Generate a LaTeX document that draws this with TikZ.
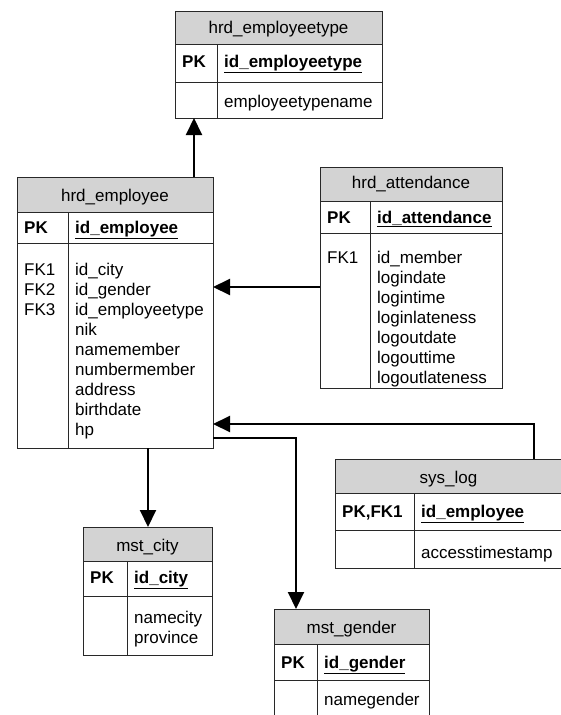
\documentclass[tikz,border=0pt]{standalone}
\usepackage{fontspec}
\setmainfont{Liberation Sans}
\usetikzlibrary{arrows.meta}
\definecolor{hdrgray}{RGB}{211,211,211}
\definecolor{boxline}{RGB}{40,40,40}

\begin{document}
\begin{tikzpicture}[x=1pt, y=-1pt,
    tbl/.style={draw=boxline, line width=1pt, inner sep=0pt, outer sep=0pt, anchor=north west},
    hdr/.style={fill=hdrgray},
    txt/.style={anchor=base west, inner sep=0pt, font=\fontsize{17}{20}\selectfont},
    ttl/.style={anchor=base, inner sep=0pt, font=\fontsize{17}{20}\selectfont},
    key/.style={txt, font=\fontsize{17}{20}\selectfont\bfseries},
    fk/.style={line width=2pt, -{Triangle[length=17pt, width=16pt]}}]
    \useasboundingbox (0,0) rectangle (561,715);
    \clip (0,0) rectangle (561,715);
    % hrd_employeetype
    \fill[hdr] (175,11) rectangle (382,44);
    \node[tbl, minimum width=207pt, minimum height=107pt] (type) at (175,11) {};
    \draw[boxline] (175,44) -- (382,44) (175,82) -- (382,82) (217,44) -- (217,118);
    \node[ttl] (typeT) at (278.5,33) {hrd\_employeetype};
    \node[key] (typePK) at (182,67) {PK};
    \node[key] (typeID) at (224,67) {\underline{id\_employeetype}};
    \node[txt] (typeF1) at (224,107) {employeetypename};
    % hrd_employee
    \fill[hdr] (17,177) rectangle (213,212);
    \node[tbl, minimum width=196pt, minimum height=271pt] (emp) at (17,177) {};
    \draw[boxline] (17,212) -- (213,212) (17,243) -- (213,243) (68,212) -- (68,448);
    \node[ttl] (empT) at (115,201) {hrd\_employee};
    \node[key] (empPK) at (24,233) {PK};
    \node[key] (empID) at (75,233) {\underline{id\_employee}};
    \foreach \k in {1,2,3}
        \node[txt] (empFK\k) at (24,255+20*\k) {FK\k};
    \foreach \f [count=\i] in {id\_city, id\_gender, id\_employeetype, nik, namemember,
        numbermember, address, birthdate, hp}
        \node[txt] (empF\i) at (75,255+20*\i) {\f};
    % hrd_attendance
    \fill[hdr] (320,167) rectangle (502,201);
    \node[tbl, minimum width=182pt, minimum height=221pt] (att) at (320,167) {};
    \draw[boxline] (320,201) -- (502,201) (320,233) -- (502,233) (370,201) -- (370,388);
    \node[ttl] (attT) at (411,188) {hrd\_attendance};
    \node[key] (attPK) at (327,223) {PK};
    \node[key] (attID) at (377,223) {\underline{id\_attendance}};
    \node[txt] (attFK1) at (327,263) {FK1};
    \foreach \f [count=\i] in {id\_member, logindate, logintime, loginlateness,
        logoutdate, logouttime, logoutlateness}
        \node[txt] (attF\i) at (377,243+20*\i) {\f};
    % sys_log
    \fill[hdr] (335,459) rectangle (564,493);
    \node[tbl, minimum width=229pt, minimum height=109pt] (log) at (335,459) {};
    \draw[boxline] (335,493) -- (564,493) (335,530) -- (564,530) (414,493) -- (414,568);
    \node[ttl] (logT) at (448.5,483) {sys\_log};
    \node[key] (logPK) at (342,517) {PK,FK1};
    \node[key] (logID) at (421,517) {\underline{id\_employee}};
    \node[txt] (logF1) at (421,558) {accesstimestamp};
    % mst_city
    \fill[hdr] (83,527) rectangle (212,561);
    \node[tbl, minimum width=129pt, minimum height=128pt] (city) at (83,527) {};
    \draw[boxline] (83,561) -- (212,561) (83,596) -- (212,596) (127,561) -- (127,655);
    \node[ttl] (cityT) at (147.5,551) {mst\_city};
    \node[key] (cityPK) at (90,583) {PK};
    \node[key] (cityID) at (134,583) {\underline{id\_city}};
    \node[txt] (cityF1) at (134,623) {namecity};
    \node[txt] (cityF2) at (134,643) {province};
    % mst_gender
    \fill[hdr] (274,609) rectangle (429,644);
    \node[tbl, minimum width=155pt, minimum height=126pt] (gen) at (274,609) {};
    \draw[boxline] (274,644) -- (429,644) (274,680) -- (429,680) (317,644) -- (317,735);
    \node[ttl] (genT) at (351.5,633) {mst\_gender};
    \node[key] (genPK) at (281,668) {PK};
    \node[key] (genID) at (324,668) {\underline{id\_gender}};
    \node[txt] (genF1) at (324,705) {namegender};
    % relations
    \coordinate (c1) at (194,150);
    \draw[fk] (emp.north -| c1) -- (type.south -| c1);
    \coordinate (c2) at (260,287);
    \draw[fk] (att.west |- c2) -- (emp.east |- c2);
    \coordinate (c3) at (534,424);
    \draw[fk] (log.north -| c3) -- (c3) -- (emp.east |- c3);
    \coordinate (c4) at (148,490);
    \draw[fk] (emp.south -| c4) -- (city.north -| c4);
    \coordinate (c5) at (296,438);
    \draw[fk] (emp.east |- c5) -- (c5) -- (gen.north -| c5);
\end{tikzpicture}
\end{document}
